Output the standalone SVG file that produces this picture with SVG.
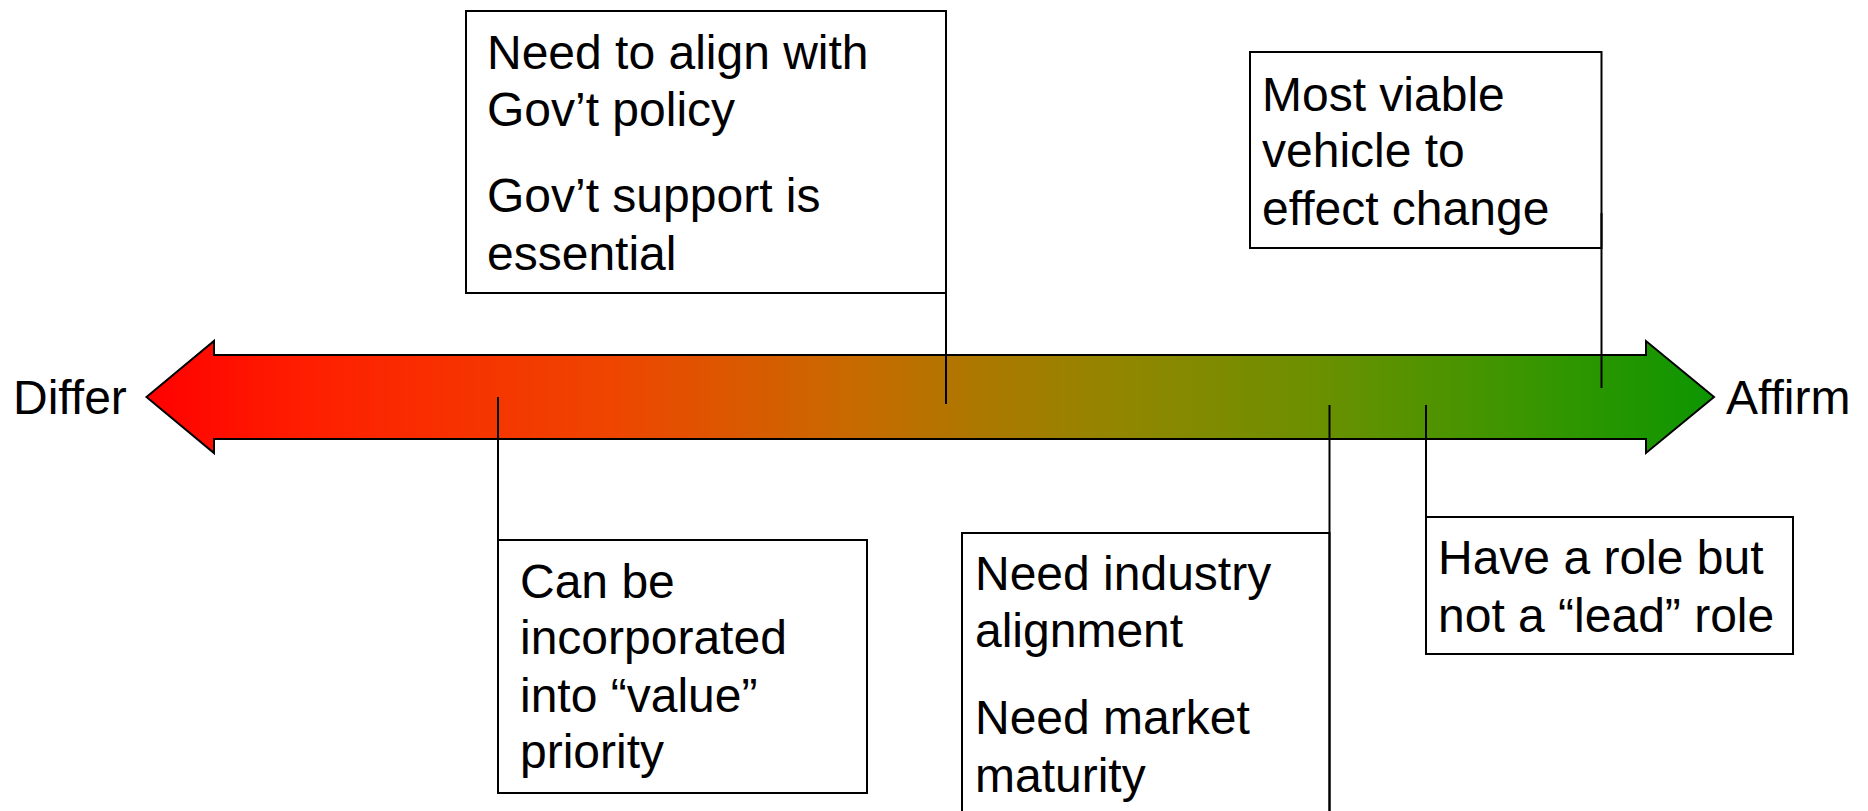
<svg xmlns="http://www.w3.org/2000/svg" width="1868" height="811" viewBox="0 0 1868 811">
<defs>
<linearGradient id="grad" x1="146" y1="0" x2="1714" y2="0" gradientUnits="userSpaceOnUse">
<stop offset="0" stop-color="#FF0000"/>
<stop offset="0.1" stop-color="#FF1E00"/>
<stop offset="0.3" stop-color="#EE4600"/>
<stop offset="0.45" stop-color="#C86A00"/>
<stop offset="0.52" stop-color="#B07600"/>
<stop offset="0.62" stop-color="#928600"/>
<stop offset="0.75" stop-color="#6A9000"/>
<stop offset="0.88" stop-color="#3A9600"/>
<stop offset="1" stop-color="#0C9600"/>
</linearGradient>
<style>
.box{fill:#FFFFFF;stroke:#000000;stroke-width:2}
.t{font-family:"Liberation Sans",Arial,sans-serif;font-size:48px;fill:#000000}
.conn{stroke:#000000;stroke-width:2;fill:none}
</style>
</defs>
<rect width="1868" height="811" fill="#FFFFFF"/>
<g id="scale-arrow">
<path d="M146.5,397 L214,341 L214,355 L1646,355 L1646,341 L1714,397 L1646,453 L1646,439 L214,439 L214,453 Z" fill="url(#grad)" stroke="#000000" stroke-width="2" stroke-linejoin="miter"/>
</g>
<g id="label-differ"><text class="t" x="13" y="414">Differ</text></g>
<g id="label-affirm"><text class="t" x="1726" y="414">Affirm</text></g>
<g id="node-gov">
<rect class="box" x="466" y="11" width="480" height="282"/>
<text class="t" x="487" y="69">Need to align with</text>
<text class="t" x="487" y="126">Gov’t policy</text>
<text class="t" x="487" y="212">Gov’t support is</text>
<text class="t" x="487" y="270">essential</text>
</g>
<g id="node-viable">
<rect class="box" x="1250" y="52" width="351.5" height="196"/>
<text class="t" x="1262" y="111">Most viable</text>
<text class="t" x="1262" y="167">vehicle to</text>
<text class="t" x="1262" y="225">effect change</text>
</g>
<g id="node-value">
<rect class="box" x="498" y="540" width="369" height="253"/>
<text class="t" x="520" y="598">Can be</text>
<text class="t" x="520" y="654">incorporated</text>
<text class="t" x="520" y="712">into “value”</text>
<text class="t" x="520" y="768">priority</text>
</g>
<g id="node-industry">
<rect class="box" x="962" y="533" width="367.5" height="300"/>
<text class="t" x="975" y="590">Need industry</text>
<text class="t" x="975" y="647">alignment</text>
<text class="t" x="975" y="734">Need market</text>
<text class="t" x="975" y="792">maturity</text>
</g>
<g id="node-role">
<rect class="box" x="1426" y="517" width="367" height="137"/>
<text class="t" x="1438" y="574">Have a role but</text>
<text class="t" x="1438" y="632">not a “lead” role</text>
</g>
<g id="connectors">
<line class="conn" x1="946" y1="261" x2="946" y2="404"/>
<line class="conn" x1="1601.5" y1="213" x2="1601.5" y2="388"/>
<line class="conn" x1="498" y1="397" x2="498" y2="540"/>
<line class="conn" x1="1329.5" y1="405" x2="1329.5" y2="811"/>
<line class="conn" x1="1426" y1="405" x2="1426" y2="517"/>
</g>
</svg>
